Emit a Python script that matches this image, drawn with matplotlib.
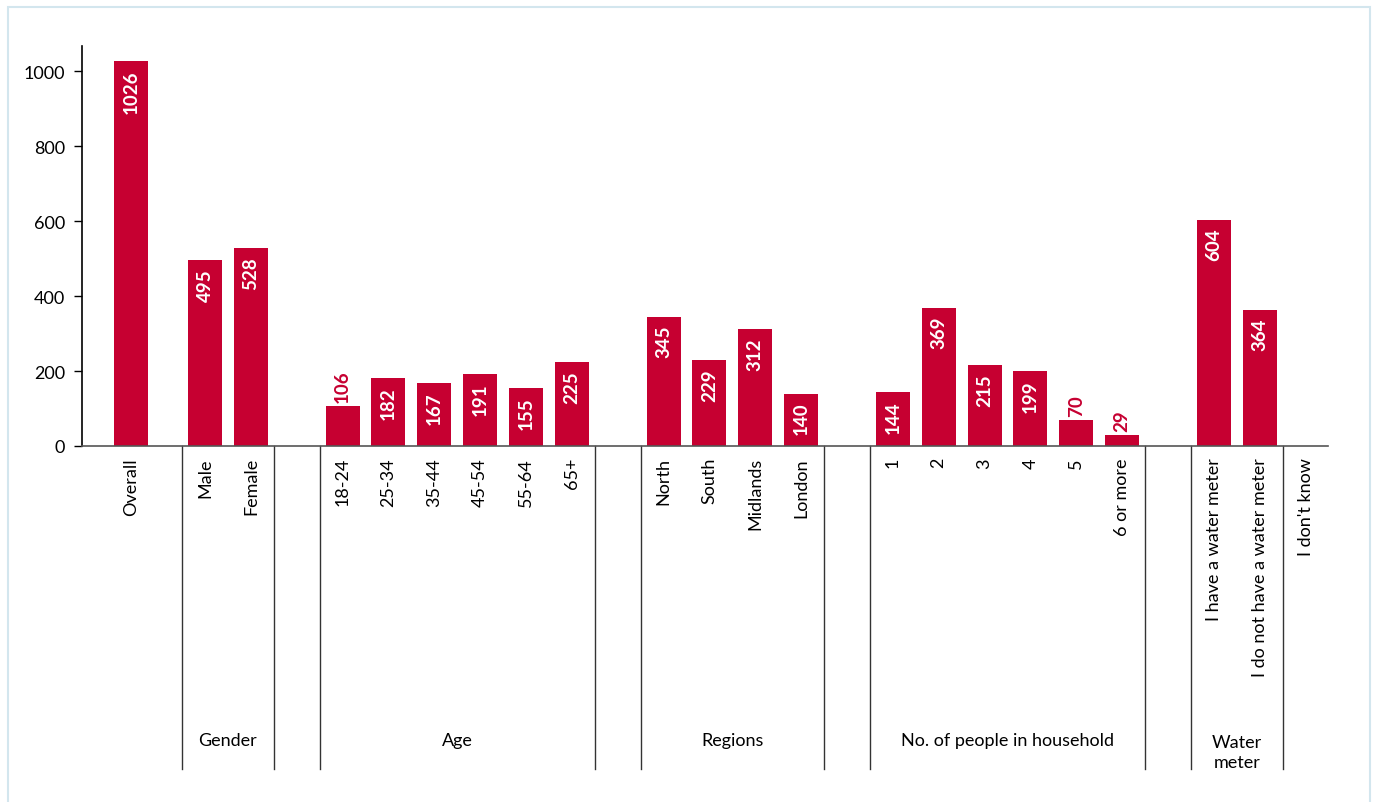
import numpy as np
import matplotlib as mpl
mpl.use('Agg')
from matplotlib import pyplot as plt
from matplotlib import transforms as mtrans
from matplotlib.patches import Rectangle

plt.rcParams['font.family'] = ['Lato', 'DejaVu Sans']

# data
categories = ['Overall', 'Male', 'Female',
              '18-24', '25-34', '35-44', '45-54', '55-64', '65+',
              'North', 'South', 'Midlands', 'London',
              '1', '2', '3', '4', '5', '6 or more',
              'I have a water meter', 'I do not have a water meter', "I don't know"]
values = [1026, 495, 528,
          106, 182, 167, 191, 155, 225,
          345, 229, 312, 140,
          144, 369, 215, 199, 70, 29,
          604, 364, np.nan]
groupNames = ['Gender', 'Age', 'Regions', 'No. of people in household', 'Water\nmeter']
groupSizes = [2, 6, 4, 6, 2]

barColor = '#c60031'

# slot positions: Male at 0, one blank slot between groups, Overall sits on its own
xpos = [-1.614]
groupSpans = []
start = 0
for n in groupSizes:
    xpos += list(range(start, start + n))
    groupSpans.append((start - 0.5, start + n - 0.5))
    start += n + 1
# "I don't know" follows the water meter group directly, without a frame
xpos.append(xpos[-1] + 1)

fig = plt.figure(figsize=(13.75, 8.03), dpi=100)
ax = fig.add_axes([82 / 1375, 356 / 803, (1328 - 82) / 1375, 400 / 803])

ax.bar(xpos, np.nan_to_num(values), width=0.74, color=barColor, zorder=2)

for x, v in zip(xpos, values):
    if np.isnan(v):
        continue
    if v >= 130:
        ax.annotate(str(v), (x, v), xytext=(0, -6), textcoords='offset points',
                    ha='center', va='top', rotation=90, color='white',
                    fontsize=13.5, fontweight='bold')
    else:
        ax.annotate(str(v), (x, v), xytext=(0, 3), textcoords='offset points',
                    ha='center', va='bottom', rotation=90, color=barColor,
                    fontsize=13.5, fontweight='bold')

ax.set_xlim(-2.683, 24.49)
ax.set_ylim(0, 1066.7)
ax.set_yticks([0, 200, 400, 600, 800, 1000])
ax.tick_params(axis='y', labelsize=13, length=6, width=1, pad=6, colors='black')
ax.set_xticks(xpos)
ax.set_xticklabels(categories, rotation=90, fontsize=13)
ax.tick_params(axis='x', length=0, pad=8)

for s in ['top', 'right']:
    ax.spines[s].set_visible(False)
ax.spines['left'].set_linewidth(1.2)
ax.spines['bottom'].set_color('#555555')
ax.spines['bottom'].set_linewidth(1.2)

# group separators and group names under the axis
trans = mtrans.blended_transform_factory(ax.transData, ax.transAxes)
sepLow = -(770 - 447) / 400
for (a, b), name in zip(groupSpans, groupNames):
    for xx in (a, b):
        ax.plot([xx, xx], [0, sepLow], transform=trans, color='#333333',
                lw=1, clip_on=False)
    if '\n' in name:
        ax.text((a + b) / 2, -(753 - 447) / 400, name, transform=trans,
                ha='center', va='center', fontsize=13, linespacing=1.3)
    else:
        ax.text((a + b) / 2, -(741 - 447) / 400, name, transform=trans,
                ha='center', va='center', fontsize=13)

# light frame round the figure
fig.patches.append(Rectangle((8 / 1375, -0.05), (1370 - 8) / 1375, 1.05 - 8 / 803,
                             transform=fig.transFigure, fill=False,
                             edgecolor='#d3e6ee', lw=1.5))

fig.savefig('out.png', dpi=100)
